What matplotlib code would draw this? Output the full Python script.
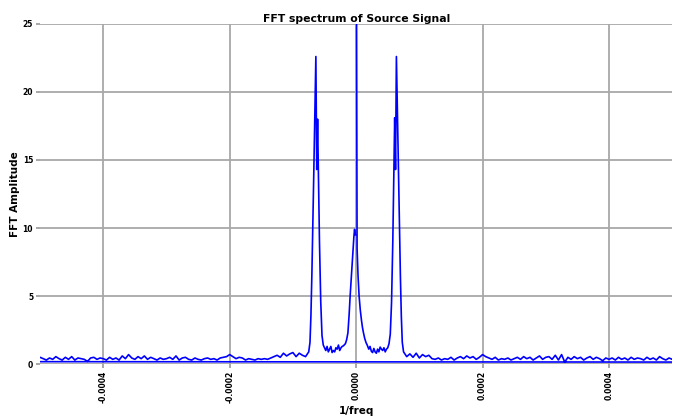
import numpy as np
import matplotlib
matplotlib.use('Agg')
import matplotlib.pyplot as plt

# frecuencias en unidades de 1e-6 (1/freq)
# lado positivo: pico central y pico lateral
pos_peak_f = [0, 1.5, 3, 4.7, 6.5, 8.5, 10, 11.6, 13.5, 15.5, 17.5,
              20, 22, 24, 26, 28, 30, 32, 34, 36, 38, 40, 42, 44, 46, 48, 50,
              52, 54, 56, 58, 59.5, 61, 62.3, 63.7, 65.5, 67, 68.5, 70, 71.5, 73]
pos_peak_a = [40, 8.5, 6.5, 5.0, 4.0, 3.2, 2.7, 2.3, 1.9, 1.6, 1.4,
              1.1, 1.3, 0.95, 0.85, 1.15, 0.9, 0.8, 1.1, 0.9, 1.25, 1.1, 1.0, 1.2, 0.9, 1.1, 1.2,
              1.5, 2.2, 4.5, 9.0, 13.5, 18.1, 14.3, 22.6, 18.0, 14.0, 10.0, 6.5, 3.5, 1.6]

# ruido del lado positivo, de 75 a 520 cada 5
pos_noise_a = [0.9, 0.55, 0.75, 0.5, 0.8, 0.45, 0.7, 0.55, 0.65, 0.4,
               0.35, 0.45, 0.3, 0.4, 0.35, 0.5, 0.3, 0.45, 0.55, 0.4, 0.6, 0.45, 0.55, 0.35, 0.5, 0.7,
               0.55, 0.45, 0.35, 0.5, 0.3, 0.4, 0.35, 0.45, 0.3, 0.4, 0.5, 0.35, 0.55, 0.4, 0.5, 0.3, 0.45, 0.6, 0.35, 0.5,
               0.55, 0.35, 0.65, 0.3, 0.7, 0.15, 0.5, 0.35, 0.55, 0.4, 0.5, 0.3, 0.45, 0.55, 0.35, 0.5, 0.4, 0.25, 0.45, 0.35,
               0.45, 0.3, 0.5, 0.35, 0.45, 0.3, 0.5, 0.35, 0.45, 0.4, 0.3, 0.5, 0.35, 0.45, 0.3, 0.55, 0.4, 0.3, 0.45, 0.35, 0.5, 0.4, 0.25, 0.15]

# ruido del lado negativo, de -520 a -75 cada 5
neg_noise_a = [0.18, 0.35, 0.45, 0.3, 0.5, 0.4, 0.3, 0.45, 0.35, 0.55, 0.4, 0.3, 0.5, 0.35, 0.55, 0.3, 0.45, 0.4, 0.35, 0.2, 0.45, 0.5, 0.35, 0.45,
               0.4, 0.3, 0.5, 0.35, 0.45, 0.3, 0.6, 0.4, 0.7, 0.45, 0.35, 0.55, 0.4, 0.6, 0.35, 0.5, 0.4, 0.3, 0.45, 0.35,
               0.4, 0.5, 0.35, 0.6, 0.3, 0.45, 0.5, 0.35, 0.3, 0.45, 0.35, 0.3, 0.4, 0.45, 0.35, 0.4, 0.3, 0.45, 0.5, 0.55,
               0.7, 0.55, 0.4, 0.5, 0.45, 0.3, 0.4, 0.35, 0.3, 0.4, 0.35, 0.4, 0.35, 0.45, 0.55, 0.65,
               0.5, 0.8, 0.6, 0.75, 0.85, 0.55, 0.8, 0.65, 0.55, 0.9]

# lado negativo: pico lateral y pico central
neg_peak_f = [-73, -71.5, -70, -68.5, -67, -65.5, -63.7, -62.3, -61, -59.5, -58, -56, -54, -52,
              -50, -48, -46, -44, -42, -40, -38, -36, -34, -32, -30, -28, -26, -24, -22, -20,
              -17, -15, -13, -11, -9.5, -8, -6.5, -5, -3.5, -2.5, -1.2]
neg_peak_a = [1.6, 3.6, 6.6, 10.2, 14.0, 18.0, 22.6, 14.3, 18.0, 13.5, 9.0, 4.6, 2.1, 1.4,
              1.2, 1.0, 1.3, 0.9, 1.1, 1.3, 0.85, 1.0, 0.9, 1.2, 1.1, 1.4, 1.0, 1.2, 1.3, 1.35,
              1.5, 1.8, 2.3, 3.7, 5.0, 6.1, 7.2, 8.3, 9.4, 9.9, 9.5]

pos_noise_f = np.arange(75, 525, 5)
neg_noise_f = -pos_noise_f[::-1]

# orden como sale de la FFT: 0 -> positivos, luego negativos
freq = np.concatenate([pos_peak_f, pos_noise_f, neg_noise_f, neg_peak_f]) * 1e-6
amp = np.concatenate([pos_peak_a, pos_noise_a, neg_noise_a, neg_peak_a])

fig = plt.figure(figsize=(6.79, 4.19), dpi=100)
ax = fig.add_axes([0.059, 0.131, 0.931, 0.812])

ax.plot(freq, amp, color='blue', linewidth=1.2)

ax.set_xlim(-0.0005, 0.0005)
ax.set_ylim(0, 25)
ax.set_xticks([-0.0004, -0.0002, 0, 0.0002, 0.0004])
ax.set_xticklabels(['%.4f' % t for t in ax.get_xticks()], rotation=90,
                   fontsize=5.5, fontweight='bold')
ax.set_yticks([0, 5, 10, 15, 20, 25])
ax.set_yticklabels(['0', '5', '10', '15', '20', '25'], fontsize=5.5, fontweight='bold')
ax.tick_params(axis='both', color='#a0a0a0', width=1.3, length=3, pad=2)

for s in ax.spines.values():
    s.set_visible(False)
ax.grid(True, color='#a8a8a8', linewidth=1.3)
ax.set_axisbelow(True)

ax.set_title('FFT spectrum of Source Signal', fontsize=7.8, fontweight='bold', pad=1)
ax.set_xlabel('1/freq', fontsize=7.5, fontweight='bold', labelpad=2)
ax.set_ylabel('FFT Amplitude', fontsize=7.5, fontweight='bold', labelpad=2)

fig.savefig('out.png', dpi=100)
